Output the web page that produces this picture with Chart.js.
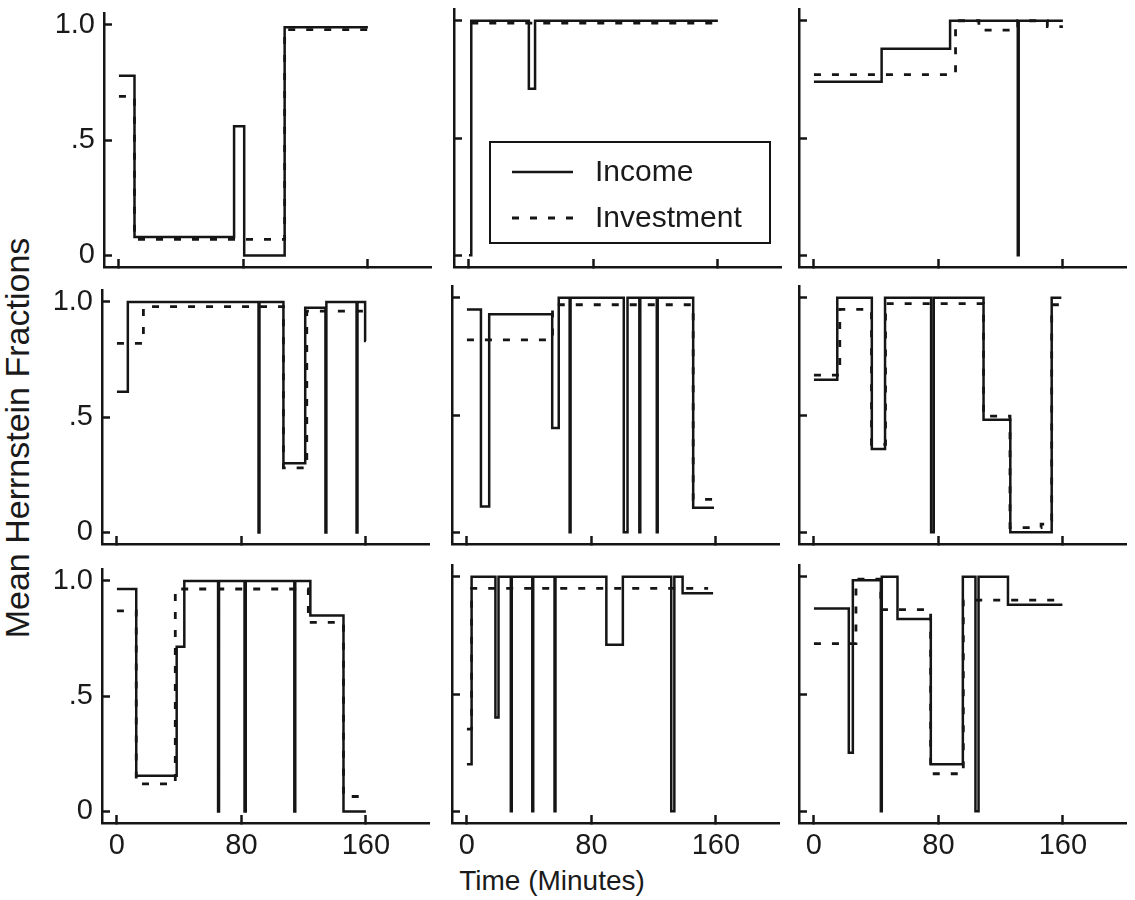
<!DOCTYPE html>
<html>
<head>
<meta charset="utf-8">
<script src="https://cdn.jsdelivr.net/npm/chart.js@4.4.1/dist/chart.umd.min.js"></script>
<style>
  html, body { margin: 0; padding: 0; background: #fff; }
  #wrap { position: relative; width: 1135px; height: 900px; overflow: hidden;
          font-family: "Liberation Sans", Arial, Helvetica, sans-serif; color: #1a1a1a; }
  #wrap canvas { position: absolute; }
  #ylab { position: absolute; left: 17px; top: 438px; white-space: nowrap; font-size: 34px;
          transform: translate(-50%, -50%) rotate(-90deg); }
  #xlab { position: absolute; left: 552px; top: 881px; white-space: nowrap; font-size: 28px;
          transform: translate(-50%, -50%); }
</style>
</head>
<body>
<div id="wrap">
  <div id="ylab">Mean Herrnstein Fractions</div>
  <div id="xlab">Time (Minutes)</div>
</div>
<script>
// ---- Step data: each value holds from its time until the next time (minutes) ----
// Panel 1
const inc1T = [0, 10, 74, 80.5, 106.5, 160];
const inc1V = [0.78, 0.08, 0.56, 0, 0.99, 0.99];
const inv1T = [0, 10, 106.5, 160];
const inv1V = [0.69, 0.07, 0.98, 0.98];
// Panel 2
const inc2T = [0, 1.5, 38.5, 42.5, 160];
const inc2V = [0, 1.0, 0.71, 1.0, 1.0];
const inv2T = [1.5, 160];
const inv2V = [0.99, 0.99];
// Panel 3
const inc3T = [0, 43.5, 87.5, 131, 131.6, 160];
const inc3V = [0.74, 0.88, 1.0, 0, 1.0, 1.0];
const inv3T = [0, 91, 106, 131, 150, 160];
const inv3V = [0.77, 1.0, 0.96, 1.0, 0.975, 0.975];
// Panel 4
const inc4T = [0, 7, 91, 91.6, 107, 121, 134, 134.6, 154, 154.6, 159.5, 160];
const inc4V = [0.61, 1.0, 0, 1.0, 0.30, 0.975, 0, 1.0, 0, 1.0, 0.83, 0.83];
const inv4T = [0, 17, 107, 122, 160];
const inv4V = [0.82, 0.98, 0.28, 0.96, 0.96];
// Panel 5
const inc5T = [0, 9, 14.3, 54.8, 59, 66, 66.6, 100.8, 103.2, 110.8, 111.4, 122, 122.6, 145.4, 158.8];
const inc5V = [0.95, 0.11, 0.93, 0.445, 1.0, 0, 1.0, 0, 1.0, 0, 1.0, 0, 1.0, 0.105, 0.105];
const inv5T = [0, 55, 145.4, 158.8];
const inv5V = [0.82, 0.97, 0.14, 0.14];
// Panel 6
const inc6T = [0, 15, 37.2, 45.7, 75.3, 77, 109, 126.2, 152.8, 159];
const inc6V = [0.65, 1.0, 0.355, 1.0, 0, 1.0, 0.48, 0, 1.0, 1.0];
const inv6T = [0, 16.6, 37, 46, 109, 126, 146, 150, 152.8, 159];
const inv6V = [0.67, 0.95, 0.375, 0.975, 0.495, 0.02, 0.035, 0.05, 0.97, 0.97];
// Panel 7
const inc7T = [0, 12.4, 38.4, 43.3, 65, 65.6, 82, 82.8, 114, 114.6, 124.3, 145.6, 160];
const inc7V = [0.965, 0.155, 0.715, 1.0, 0, 1.0, 0, 1.0, 0, 1.0, 0.85, 0, 0];
const inv7T = [0, 12.4, 37.5, 123, 145.6, 160];
const inv7V = [0.87, 0.12, 0.965, 0.82, 0.065, 0.065];
// Panel 8
const inc8T = [0, 3, 18.3, 20.3, 28.2, 28.8, 42, 42.6, 56.3, 56.9, 89.6, 100.2, 131.3, 133.3, 138.6, 158.2];
const inc8V = [0.2, 1.0, 0.40, 1.0, 0, 1.0, 0, 1.0, 0, 1.0, 0.71, 1.0, 0, 1.0, 0.93, 0.93];
const inv8T = [0, 3, 155];
const inv8V = [0.35, 0.95, 0.95];
// Panel 9
const inc9T = [0, 22.4, 25, 43, 43.6, 53.7, 75.1, 95.7, 103.8, 105.8, 124.7, 159.7];
const inc9V = [0.865, 0.25, 0.985, 0, 1.0, 0.82, 0.2, 1.0, 0, 1.0, 0.88, 0.88];
const inv9T = [0, 27, 43, 75, 96, 160];
const inv9V = [0.715, 0.99, 0.86, 0.16, 0.90, 0.90];

const seriesNames = ['Income', 'Investment'];
const xTickValues = [0, 80, 160];
const xTickLabels = ['0', '80', '160'];
const yTickValues = [0, 0.5, 1];
const yTickLabels = ['0', '.5', '1.0'];

const panels = [
  [inc1T, inc1V, inv1T, inv1V], [inc2T, inc2V, inv2T, inv2V], [inc3T, inc3V, inv3T, inv3V],
  [inc4T, inc4V, inv4T, inv4V], [inc5T, inc5V, inv5T, inv5V], [inc6T, inc6V, inv6T, inv6V],
  [inc7T, inc7V, inv7T, inv7V], [inc8T, inc8V, inv8T, inv8V], [inc9T, inc9V, inv9T, inv9V]
];

// ---- Layout ----
const FONT = '"Liberation Sans", Arial, Helvetica, sans-serif';
const INK = '#151515';
const X_MIN = -9.6, Y_MIN = -0.05, Y_MAX = 1.05;
const AREA_W = 327, AREA_H = 258;
const PX_PER_MIN = 1.556;
const X_MAX = X_MIN + AREA_W / PX_PER_MIN;
const PX_PER_UNIT = AREA_H / (Y_MAX - Y_MIN);
const zeroX = [[119, 469, 814], [117, 467, 814], [117, 467, 814]];
const zeroY = [255, 532.7, 811];
const PAD_L = 100, PAD_T = 30, PAD_R = 20, PAD_B = 60;

const toPoints = (t, v) => t.map((x, i) => ({ x: x, y: v[i] }));

// Framed legend drawn inside the plot area of one panel
const boxLegend = {
  id: 'boxLegend',
  afterDatasetsDraw(chart, args, opts) {
    if (!opts.show) return;
    const { ctx, chartArea: a } = chart;
    const bx = a.left + 36, by = a.top + 133, bw = 280, bh = 101;
    ctx.save();
    ctx.setLineDash([]);
    ctx.lineWidth = 2;
    ctx.strokeStyle = INK;
    ctx.strokeRect(bx, by, bw, bh);
    ctx.font = '30px ' + FONT;
    ctx.fillStyle = '#1a1a1a';
    ctx.textBaseline = 'middle';
    chart.data.datasets.forEach((ds, i) => {
      const y = by + 30 + i * 46;
      ctx.beginPath();
      ctx.lineWidth = ds.borderWidth;
      ctx.setLineDash(ds.borderDash || []);
      ctx.moveTo(bx + 22, y);
      ctx.lineTo(bx + 83, y);
      ctx.stroke();
      ctx.setLineDash([]);
      ctx.fillText(ds.label, bx + 105, y + 1);
    });
    ctx.restore();
  }
};

const wrap = document.getElementById('wrap');
panels.forEach((p, k) => {
  const row = Math.floor(k / 3), col = k % 3;
  const areaLeft = Math.round(zeroX[row][col] + X_MIN * PX_PER_MIN);
  const areaTop = Math.round(zeroY[row] - Y_MAX * PX_PER_UNIT);
  const cv = document.createElement('canvas');
  const w = PAD_L + AREA_W + PAD_R, h = PAD_T + AREA_H + PAD_B;
  cv.width = w; cv.height = h;
  cv.style.width = w + 'px'; cv.style.height = h + 'px';
  cv.style.left = (areaLeft - PAD_L) + 'px';
  cv.style.top = (areaTop - PAD_T) + 'px';
  wrap.appendChild(cv);

  const showX = row === 2, showY = col === 0;
  new Chart(cv, {
    type: 'line',
    data: {
      datasets: [
        { label: seriesNames[0], data: toPoints(p[0], p[1]), stepped: true,
          borderColor: INK, borderWidth: 2.5, pointRadius: 0, fill: false },
        { label: seriesNames[1], data: toPoints(p[2], p[3]), stepped: true,
          borderColor: INK, borderWidth: 2.8, borderDash: [7, 11], pointRadius: 0, fill: false }
      ]
    },
    options: {
      responsive: false, animation: false, events: [], devicePixelRatio: 1,
      layout: { padding: { left: 0, top: PAD_T, right: PAD_R, bottom: 0 } },
      plugins: { legend: { display: false }, tooltip: { enabled: false },
                 boxLegend: { show: k === 1 } },
      scales: {
        x: {
          type: 'linear', min: X_MIN, max: X_MAX,
          afterBuildTicks: s => { s.ticks = xTickValues.map(v => ({ value: v })); },
          afterFit: s => { s.height = PAD_B; },
          ticks: { display: showX, autoSkip: false, maxRotation: 0, padding: 14,
                   color: '#1a1a1a', font: { family: FONT, size: 29 },
                   callback: (v, i) => xTickLabels[i] },
          grid: { drawOnChartArea: false, drawTicks: true, tickLength: -8, tickWidth: 2.5, tickColor: INK },
          border: { display: true, color: INK, width: 2.5 }
        },
        y: {
          type: 'linear', min: Y_MIN, max: Y_MAX,
          afterBuildTicks: s => { s.ticks = yTickValues.map(v => ({ value: v })); },
          afterFit: s => { s.width = PAD_L; },
          ticks: { display: showY, autoSkip: false, padding: 17,
                   color: '#1a1a1a', font: { family: FONT, size: 29 },
                   callback: (v, i) => yTickLabels[i] },
          grid: { drawOnChartArea: false, drawTicks: true, tickLength: -8, tickWidth: 2.5, tickColor: INK },
          border: { display: true, color: INK, width: 2.5 }
        }
      }
    },
    plugins: [boxLegend]
  });
});
</script>
</body>
</html>
